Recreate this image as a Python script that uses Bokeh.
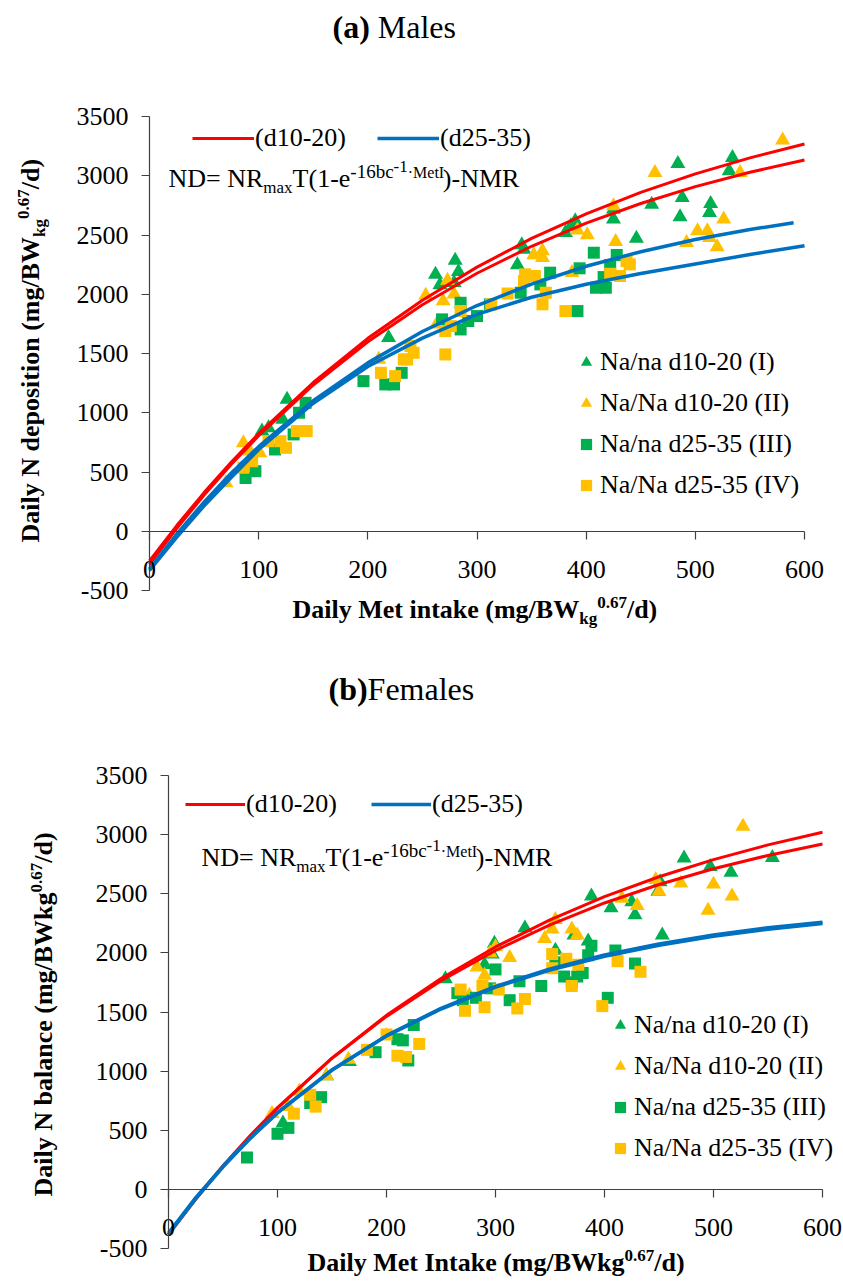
import math
from bokeh.plotting import figure
from bokeh.models import Range1d, FixedTicker, Label, Legend, LegendItem
from bokeh.layouts import column
from bokeh.embed import file_html
from bokeh.resources import INLINE

# ---------------- data ----------------
X_TICKS = [0, 100, 200, 300, 400, 500, 600]
Y_TICKS = [-500, 0, 500, 1000, 1500, 2000, 2500, 3000, 3500]

# fitted curves
curve_x = [0, 25, 50, 75, 100, 150, 200, 250, 300, 350, 400, 450, 500, 550, 600]
a_red1 = [-250, 48, 326, 584, 824, 1255, 1628, 1950, 2229, 2471, 2679, 2860, 3016, 3151, 3268]
a_red2 = [-280, 24, 306, 565, 806, 1234, 1599, 1911, 2177, 2405, 2600, 2766, 2908, 3029, 3133]
a_blue1_x = [0, 25, 50, 75, 100, 150, 200, 250, 300, 350, 400, 450, 500, 550, 590]
a_blue1 = [-320, -24, 246, 491, 714, 1101, 1421, 1686, 1905, 2086, 2236, 2359, 2462, 2546, 2604]
a_blue2 = [-330, -50, 215, 455, 690, 1080, 1390, 1630, 1830, 1975, 2085, 2175, 2255, 2335, 2410]

# panel (a) observations
a_I_x = [534, 531, 484, 460, 488, 486, 514, 513, 446, 425, 425, 390, 386, 381, 341, 343, 337, 280, 283, 262, 266, 279, 219, 126, 109, 103, 122]
a_I_y = [3153, 3041, 3102, 2759, 2815, 2652, 2765, 2689, 2472, 2717, 2633, 2618, 2576, 2520, 2416, 2379, 2247, 2286, 2190, 2168, 2078, 2097, 1633, 1112, 872, 845, 943]
a_II_x = [580, 463, 541, 526, 502, 511, 513, 520, 492, 425, 427, 401, 392, 387, 352, 360, 360, 273, 279, 269, 253, 210, 263, 70, 86, 92, 101]
a_II_y = [3300, 3026, 3026, 2633, 2534, 2534, 2477, 2399, 2435, 2745, 2444, 2500, 2540, 2182, 2331, 2365, 2309, 2117, 2000, 1943, 1991, 1450, 1748, 408, 746, 676, 661]
a_III_x = [407, 428, 394, 422, 416, 409, 418, 392, 367, 358, 340, 312, 300, 292, 285, 285, 268, 143, 137, 132, 115, 97, 88, 196, 216, 224, 231]
a_III_y = [2351, 2331, 2219, 2247, 2145, 2055, 2055, 1858, 2182, 2083, 2013, 1915, 1816, 1774, 1703, 1928, 1788, 1084, 1000, 817, 690, 507, 450, 1267, 1239, 1239, 1337]
a_IV_x = [437, 440, 431, 422, 344, 353, 343, 363, 360, 381, 328, 313, 285, 276, 271, 271, 239, 242, 236, 135, 144, 125, 120, 109, 94, 86, 212, 225, 233]
a_IV_y = [2280, 2252, 2154, 2173, 2168, 2154, 2111, 2013, 1915, 1858, 2006, 1915, 1858, 1731, 1689, 1492, 1563, 1506, 1450, 845, 845, 704, 760, 760, 591, 535, 1337, 1309, 1450]

# fitted curves
b_red1 = [-380, -82, 194, 450, 687, 1110, 1472, 1783, 2050, 2279, 2476, 2644, 2789, 2913, 3020]
b_red2 = [-380, -79, 200, 455, 691, 1109, 1463, 1765, 2020, 2237, 2422, 2578, 2711, 2824, 2920]
b_blue1 = [-380, -79, 190, 431, 646, 1009, 1300, 1531, 1717, 1864, 1982, 2076, 2152, 2212, 2260]
b_blue2 = [-370, -70, 195, 435, 650, 1010, 1298, 1525, 1710, 1855, 1972, 2065, 2140, 2200, 2248]

# panel (b) observations
b_I_x = [554, 516, 497, 473, 451, 449, 453, 428, 425, 406, 388, 385, 372, 355, 327, 299, 297, 290, 254, 166, 145, 105]
b_I_y = [2805, 2680, 2730, 2800, 2600, 2520, 2150, 2320, 2430, 2380, 2480, 2100, 2150, 2020, 2210, 2080, 1990, 1900, 1780, 1080, 960, 560]
b_II_x = [527, 517, 500, 495, 470, 450, 447, 430, 416, 375, 370, 355, 352, 345, 313, 300, 295, 290, 283, 276, 200, 165, 145, 120, 95, 110]
b_II_y = [3070, 2480, 2580, 2360, 2590, 2520, 2620, 2400, 2460, 2150, 2200, 2280, 2200, 2120, 1960, 2050, 2000, 1810, 1880, 1640, 1300, 1100, 960, 830, 640, 700]
b_III_x = [410, 428, 403, 388, 385, 380, 375, 370, 363, 355, 342, 322, 313, 300, 295, 282, 270, 265, 220, 215, 210, 225, 190, 140, 130, 110, 100, 72]
b_III_y = [2020, 1910, 1620, 2060, 1980, 1830, 1800, 1750, 1800, 1920, 1720, 1760, 1600, 1860, 1700, 1620, 1600, 1660, 1090, 1260, 1270, 1390, 1160, 780, 730, 520, 470, 270]
b_IV_x = [433, 412, 398, 376, 370, 365, 352, 352, 327, 320, 303, 290, 288, 272, 268, 230, 218, 210, 200, 182, 135, 130, 115]
b_IV_y = [1840, 1930, 1550, 1900, 1720, 1950, 1990, 1870, 1610, 1530, 1690, 1540, 1720, 1510, 1690, 1230, 1120, 1130, 1310, 1180, 700, 800, 640]

SERIES_LABELS = ["Na/na d10-20 (I)", "Na/Na d10-20 (II)", "Na/na d25-35 (III)", "Na/Na d25-35 (IV)"]
LINE_LABELS = ["(d10-20)", "(d25-35)"]

# ---------------- style ----------------
FONT = "Liberation Serif"
GREEN = "#00B050"
YELLOW = "#FFC000"
RED = "#FF0000"
BLUE = "#0070C0"
AXIS = "#404040"
W = 843
MID = 0.34  # distance (em) from baseline to the middle of the text box

REG_W = {c: 500 for c in "0123456789"}
REG_W.update({' ': 250, '(': 333, ')': 333, '-': 333, '.': 250, '/': 278, '=': 564, '·': 250,
              'A': 722, 'B': 667, 'C': 667, 'D': 722, 'E': 611, 'F': 556, 'G': 722, 'H': 722, 'I': 333,
              'J': 389, 'K': 722, 'L': 611, 'M': 889, 'N': 722, 'O': 722, 'P': 556, 'Q': 722, 'R': 667,
              'S': 556, 'T': 611, 'U': 722, 'V': 722, 'W': 944, 'X': 722, 'Y': 722, 'Z': 611,
              'a': 444, 'b': 500, 'c': 444, 'd': 500, 'e': 444, 'f': 333, 'g': 500, 'h': 500, 'i': 278,
              'j': 278, 'k': 500, 'l': 278, 'm': 778, 'n': 500, 'o': 500, 'p': 500, 'q': 500, 'r': 333,
              's': 389, 't': 278, 'u': 500, 'v': 500, 'w': 722, 'x': 500, 'y': 500, 'z': 444})
BOLD_W = {c: 500 for c in "0123456789"}
BOLD_W.update({' ': 250, '(': 333, ')': 333, '-': 333, '.': 250, '/': 278,
               'A': 722, 'B': 667, 'C': 722, 'D': 722, 'E': 667, 'F': 611, 'G': 778, 'H': 778, 'I': 389,
               'J': 500, 'K': 778, 'L': 667, 'M': 944, 'N': 722, 'O': 778, 'P': 611, 'R': 722, 'S': 556,
               'T': 667, 'W': 1000,
               'a': 500, 'b': 556, 'c': 444, 'd': 556, 'e': 444, 'f': 333, 'g': 500, 'h': 556, 'i': 278,
               'j': 333, 'k': 556, 'l': 278, 'm': 833, 'n': 556, 'o': 500, 'p': 556, 'q': 556, 'r': 444,
               's': 389, 't': 333, 'u': 556, 'v': 500, 'w': 722, 'x': 500, 'y': 500, 'z': 444})


def text_w(t, size, bold):
    tab = BOLD_W if bold else REG_W
    return sum(tab.get(c, 500) for c in t) * size / 1000.0


def rich(p, conv, x, y, pieces, angle=0.0):
    """pieces: (text, size_px, bold, rise_px); x,y page pixels of baseline start."""
    adv = 0.0
    for t, size, bold, rise in pieces:
        lead = len(t) - len(t.lstrip(" "))
        adv += lead * 250 * size / 1000.0
        t = t.lstrip(" ")
        if angle == 0:
            X, Y = x + adv, y - rise - MID * size
        else:
            X, Y = x - rise - MID * size, y - adv
        dx, dy = conv(X, Y)
        p.add_layout(Label(x=dx, y=dy, text=t, text_font=FONT, text_font_size=f"{size}px",
                           text_font_style="bold" if bold else "normal", text_color="black",
                           text_align="left", text_baseline="middle", angle=angle,
                           angle_units="rad"))
        adv += text_w(t, size, bold)


def make_fig(left, top, fw, fh, page_top, H):
    """Frame covers the whole canvas; the chart's axes sit at data 0 with bounds."""
    kx = 600.0 / fw
    ky = 4000.0 / fh

    def conv(X, Y):
        return (X - left) * kx, 3500.0 - (Y - top) * ky

    x0 = conv(0, 0)[0]
    x1 = conv(W, 0)[0]
    y_top = conv(0, page_top)[1]
    y_bot = conv(0, page_top + H)[1]
    p = figure(output_backend="svg", toolbar_location=None, width=W, height=H,
               min_border=0, min_border_left=0, min_border_right=0,
               min_border_top=0, min_border_bottom=0,
               x_range=Range1d(x0, x1), y_range=Range1d(y_bot, y_top))
    p.grid.visible = False
    p.outline_line_color = None
    p.background_fill_color = "white"
    p.border_fill_color = "white"
    xa = p.xaxis[0]
    xa.fixed_location = 0
    xa.bounds = (0, 600)
    xa.ticker = FixedTicker(ticks=X_TICKS)
    ya = p.yaxis[0]
    ya.fixed_location = 0
    ya.bounds = (-500, 3500)
    ya.ticker = FixedTicker(ticks=Y_TICKS)
    ya.major_label_overrides = {-500: "-500"}
    for ax in (xa, ya):
        ax.axis_line_color = AXIS
        ax.axis_line_width = 1.2
        ax.major_tick_line_color = AXIS
        ax.major_tick_line_width = 1.2
        ax.major_tick_out = 8
        ax.major_tick_in = 0
        ax.minor_tick_line_color = None
        ax.major_label_text_font = FONT
        ax.major_label_text_font_size = "26px"
        ax.major_label_text_color = "black"
    xa.major_label_standoff = 22
    ya.major_label_standoff = 13
    return p, conv


def panel(p, reds, blues, blue1_x, pts, leg_line, leg_pts, line_gw, line_sp):
    rI = p.scatter(pts[0][0], pts[0][1], marker="triangle", size=15, fill_color=GREEN, line_color=None)
    rII = p.scatter(pts[1][0], pts[1][1], marker="triangle", size=15, fill_color=YELLOW, line_color=None)
    rIII = p.scatter(pts[2][0], pts[2][1], marker="square", size=12, fill_color=GREEN, line_color=None)
    rIV = p.scatter(pts[3][0], pts[3][1], marker="square", size=12, fill_color=YELLOW, line_color=None)
    lr = [p.line(curve_x, reds[0], line_color=RED, line_width=3),
          p.line(curve_x, reds[1], line_color=RED, line_width=3)]
    lb = [p.line(blue1_x, blues[0], line_color=BLUE, line_width=3.5),
          p.line(curve_x, blues[1], line_color=BLUE, line_width=3.5)]
    leg1 = Legend(items=[LegendItem(label=LINE_LABELS[0], renderers=[lr[0]]),
                         LegendItem(label=LINE_LABELS[1], renderers=[lb[0]])],
                  location=leg_line, orientation="horizontal", glyph_width=line_gw, glyph_height=28,
                  label_standoff=1, spacing=line_sp, padding=0, margin=0,
                  border_line_color=None, background_fill_alpha=0,
                  label_text_font=FONT, label_text_font_size="26px", label_text_color="black")
    leg2 = Legend(items=[LegendItem(label=SERIES_LABELS[i], renderers=[r])
                         for i, r in enumerate([rI, rII, rIII, rIV])],
                  location=leg_pts, orientation="vertical", glyph_width=28, glyph_height=28,
                  label_standoff=0, spacing=11, padding=0, margin=0,
                  border_line_color=None, background_fill_alpha=0,
                  label_text_font=FONT, label_text_font_size="26px", label_text_color="black")
    p.add_layout(leg1)
    p.add_layout(leg2)


def formula(p, conv, x, y):
    rich(p, conv, x, y, [("ND= NR", 26, False, 0), ("max", 17, False, -6), ("T(1-e", 26, False, 0),
                         ("-16bc", 19, False, 10), ("-1", 17, False, 15), ("·MetI", 16, False, 10),
                         (")-NMR", 26, False, 0)])


# ---------------- panel (a) ----------------
HA = 636
pa, ca = make_fig(149, 116, 655, 474, 0, HA)
panel(pa, [a_red1, a_red2], [a_blue1, a_blue2], a_blue1_x,
      [(a_I_x, a_I_y), (a_II_x, a_II_y), (a_III_x, a_III_y), (a_IV_x, a_IV_y)],
      (192, 483), (572, 136), 62, 31)
formula(pa, ca, 168, 187)
rich(pa, ca, 332, 37, [("(a)", 32, True, 0), (" Males", 32, False, 0)])
rich(pa, ca, 292, 618, [("Daily Met intake (mg/BW", 26, True, 0), ("kg", 17, True, -6),
                         ("0.67", 17, True, 10), ("/d)", 26, True, 0)])
rich(pa, ca, 39, 542, [("Daily N deposition (mg/BW", 26, True, 0), ("kg", 17, True, -6),
                        ("0.67", 17, True, 10), ("/d)", 26, True, 0)], angle=math.pi / 2)

# ---------------- panel (b) ----------------
HB = 646
pb, cb = make_fig(168, 775, 654, 473, HA, HB)
panel(pb, [b_red1, b_red2], [b_blue1, b_blue2], curve_x,
      [(b_I_x, b_I_y), (b_II_x, b_II_y), (b_III_x, b_III_y), (b_IV_x, b_IV_y)],
      (185, 463), (606, 119), 60, 34)
formula(pb, cb, 201, 866)
rich(pb, cb, 328, 699, [("(b)", 32, True, 0), ("Females", 32, False, 0)])
rich(pb, cb, 307, 1271, [("Daily Met Intake (mg/BWkg", 26, True, 0),
                          ("0.67", 17, True, 10), ("/d)", 26, True, 0)])
rich(pb, cb, 52, 1196, [("Daily N balance (mg/BWkg", 26, True, 0),
                         ("0.67", 17, True, 10), ("/d)", 26, True, 0)], angle=math.pi / 2)

layout = column(pa, pb, spacing=0)
open("out.html", "w").write(file_html(layout, INLINE))
